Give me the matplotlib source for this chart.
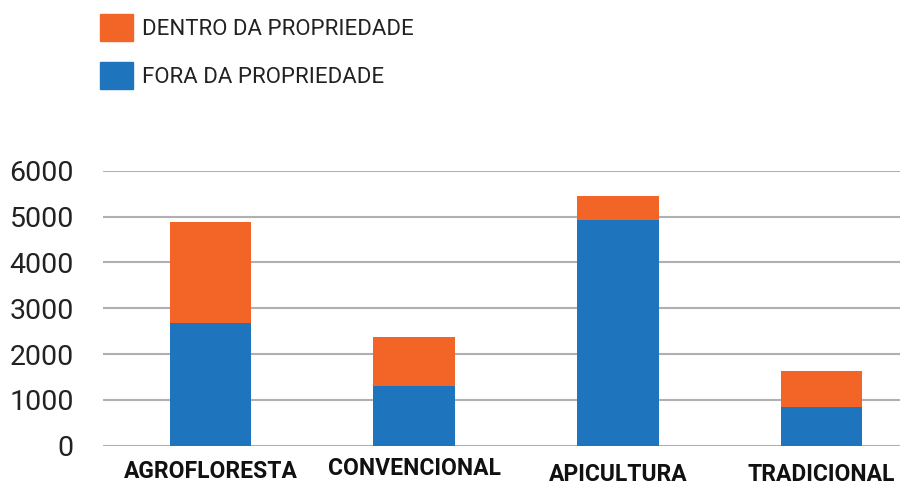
import matplotlib.pyplot as plt
import matplotlib.transforms as mtransforms
from matplotlib.patches import Patch

plt.rcParams['font.family'] = ['Roboto', 'DejaVu Sans']

# dados
categorias = ['AGROFLORESTA', 'CONVENCIONAL', 'APICULTURA', 'TRADICIONAL']
fora = [2680, 1310, 4930, 840]
dentro = [2200, 1060, 520, 790]
yticks = [0, 1000, 2000, 3000, 4000, 5000, 6000]

azul = '#1E74BD'
laranja = '#F36527'

fig = plt.figure(figsize=(9, 4.84), dpi=100)
ax = fig.add_axes([0.1144, 0.0791, 0.8856, 0.5682])

x = range(len(categorias))
ax.bar(x, fora, width=0.4, color=azul, zorder=2)
ax.bar(x, dentro, bottom=fora, width=0.4, color=laranja, zorder=2)

ax.set_ylim(0, 6000)
ax.set_xlim(-0.528, 3.385)
ax.set_yticks(yticks)
ax.set_yticklabels([str(v) for v in yticks], fontsize=20.5, color='#222222')
ax.yaxis.grid(True, color='#B0B0B4', linewidth=1.5, zorder=0)
ax.set_axisbelow(True)
ax.tick_params(axis='y', length=0, pad=21)
ax.tick_params(axis='x', length=0, pad=10)
for s in ax.spines.values():
    s.set_visible(False)

ax.set_xticks(list(x))
ax.set_xticklabels(categorias, fontsize=16.5, fontweight='bold', color='#111111')
# pequenos deslocamentos verticais dos rotulos, como no original
desloc = [0, 3, -3, -3]
for lab, d in zip(ax.get_xticklabels(), desloc):
    lab.set_transform(lab.get_transform() +
                      mtransforms.ScaledTranslation(0, d / 100, fig.dpi_scale_trans))

handles = [Patch(color=laranja), Patch(color=azul)]
fig.legend(handles, ['DENTRO DA PROPRIEDADE', 'FORA DA PROPRIEDADE'],
           loc='upper left', bbox_to_anchor=(100 / 900, 1 - 14 / 484),
           frameon=False, fontsize=16, handlelength=1.5, handleheight=1.5,
           handletextpad=0.4, labelspacing=0.95, borderpad=0, borderaxespad=0,
           labelcolor='#222222')

fig.savefig('out.png', dpi=100)
